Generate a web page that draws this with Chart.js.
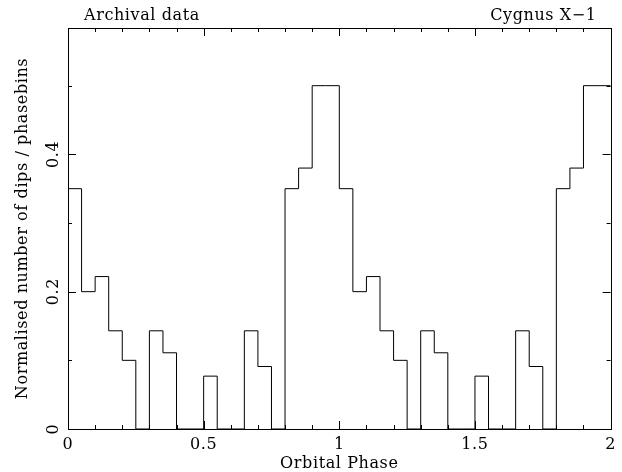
<!DOCTYPE html>
<html>
<head>
<meta charset="utf-8">
<script src="https://cdn.jsdelivr.net/npm/chart.js@4.4.1/dist/chart.umd.min.js"></script>
<style>
  html, body { margin: 0; padding: 0; background: #fff; }
  #wrap { width: 622px; height: 472px; }
</style>
</head>
<body>
<div id="wrap"><canvas id="dipChart" width="622" height="472"></canvas></div>
<script>
// left edge of each 0.05 phase bin, plotted over two orbital cycles
const binEdges = [
  0.00, 0.05, 0.10, 0.15, 0.20, 0.25, 0.30, 0.35, 0.40, 0.45,
  0.50, 0.55, 0.60, 0.65, 0.70, 0.75, 0.80, 0.85, 0.90, 0.95,
  1.00, 1.05, 1.10, 1.15, 1.20, 1.25, 1.30, 1.35, 1.40, 1.45,
  1.50, 1.55, 1.60, 1.65, 1.70, 1.75, 1.80, 1.85, 1.90, 1.95,
  2.00
];
// normalised dip counts per bin (last entry closes the final step at phase 2)
const dipFraction = [
  0.35, 0.20, 0.222, 0.143, 0.10, 0, 0.143, 0.111, 0, 0,
  0.077, 0, 0, 0.143, 0.091, 0, 0.35, 0.38, 0.50, 0.50,
  0.35, 0.20, 0.222, 0.143, 0.10, 0, 0.143, 0.111, 0, 0,
  0.077, 0, 0, 0.143, 0.091, 0, 0.35, 0.38, 0.50, 0.50,
  0.50
];
const xTicks = [0, 0.5, 1, 1.5, 2];
const yTicks = [0, 0.2, 0.4];
const leftLabel = 'Archival data';
const rightLabel = 'Cygnus X\u22121';

const FONT = 'DejaVu Serif';
const SIZE = 16;
const SPACING = '0.6px';

// wider letter spacing for all text, reapplied since canvas resizes reset it
const spacingPlugin = {
    id: 'spacing',
    beforeLayout(chart) { chart.ctx.letterSpacing = SPACING; },
    beforeDraw(chart) { chart.ctx.letterSpacing = SPACING; },
};

// frame with inward-pointing ticks on all four sides, plus the two corner labels
const framePlugin = {
    id: 'frame',
    afterDraw(chart) {
        const ctx = chart.ctx;
        const a = chart.chartArea;
        const xs = chart.scales.x;
        const ys = chart.scales.y;
        ctx.save();
        ctx.strokeStyle = '#000';
        ctx.lineWidth = 1;
        ctx.strokeRect(Math.round(a.left) + 0.5, Math.round(a.top) + 0.5,
            Math.round(a.right - a.left), Math.round(a.bottom - a.top));

        ctx.beginPath();
        for (let i = 0; i <= 20; i++) {
            const v = i * 0.1;
            const len = (i % 5 === 0) ? 8 : 4;
            const px = Math.round(xs.getPixelForValue(v)) + 0.5;
            ctx.moveTo(px, a.bottom); ctx.lineTo(px, a.bottom - len);
            ctx.moveTo(px, a.top); ctx.lineTo(px, a.top + len);
        }
        for (let i = 0; i <= 5; i++) {
            const v = i * 0.1;
            const len = (i % 2 === 0) ? 8 : 4;
            const py = Math.round(ys.getPixelForValue(v)) + 0.5;
            ctx.moveTo(a.left, py); ctx.lineTo(a.left + len, py);
            ctx.moveTo(a.right, py); ctx.lineTo(a.right - len, py);
        }
        ctx.stroke();

        ctx.fillStyle = '#000';
        ctx.font = SIZE + 'px "' + FONT + '"';
        ctx.letterSpacing = SPACING;
        ctx.textBaseline = 'alphabetic';
        ctx.textAlign = 'left';
        ctx.fillText(leftLabel, a.left + 16, 20);
        ctx.textAlign = 'right';
        ctx.fillText(rightLabel, a.right - 14, 20);
        ctx.restore();
    }
};

const ctx = document.getElementById('dipChart').getContext('2d');
const dipChart = new Chart(ctx, {
    type: 'line',
    plugins: [spacingPlugin, framePlugin],
    data: {
        datasets: [{
            data: binEdges.map((x, i) => ({ x: x, y: dipFraction[i] })),
            borderColor: '#000',
            borderWidth: 1,
            pointRadius: 0,
            fill: false,
            stepped: 'before',
        }]
    },
    options: {
        responsive: false,
        animation: false,
        layout: {
            padding: { top: 28, right: 10, left: 0, bottom: 0 }
        },
        plugins: {
            legend: { display: false },
            tooltip: { enabled: false },
        },
        scales: {
            x: {
                type: 'linear',
                min: 0,
                max: 2,
                afterFit: s => { s.height = 43; },
                afterBuildTicks: s => { s.ticks = xTicks.map(v => ({ value: v })); },
                grid: { display: false, drawTicks: false },
                border: { display: false },
                ticks: {
                    color: '#000',
                    font: { family: FONT, size: SIZE },
                    padding: 6,
                    maxRotation: 0,
                    autoSkip: false,
                    callback: v => String(v),
                },
                title: {
                    display: true,
                    text: 'Orbital Phase',
                    color: '#000',
                    font: { family: FONT, size: SIZE, lineHeight: 1 },
                    padding: { top: 0, bottom: 0 },
                },
            },
            y: {
                type: 'linear',
                min: 0,
                max: 0.584,
                afterFit: s => { s.width = 68; },
                afterBuildTicks: s => { s.ticks = yTicks.map(v => ({ value: v })); },
                grid: { display: false, drawTicks: false },
                border: { display: false },
                ticks: {
                    color: '#000',
                    font: { family: FONT, size: SIZE },
                    padding: 1,
                    minRotation: 90,
                    maxRotation: 90,
                    crossAlign: 'center',
                    autoSkip: false,
                    callback: v => String(v),
                },
                title: {
                    display: true,
                    text: 'Normalised number of dips / phasebins',
                    color: '#000',
                    font: { family: FONT, size: SIZE, lineHeight: 1 },
                    padding: { top: 15, bottom: 0 },
                },
            },
        },
    },
});
</script>
</body>
</html>
